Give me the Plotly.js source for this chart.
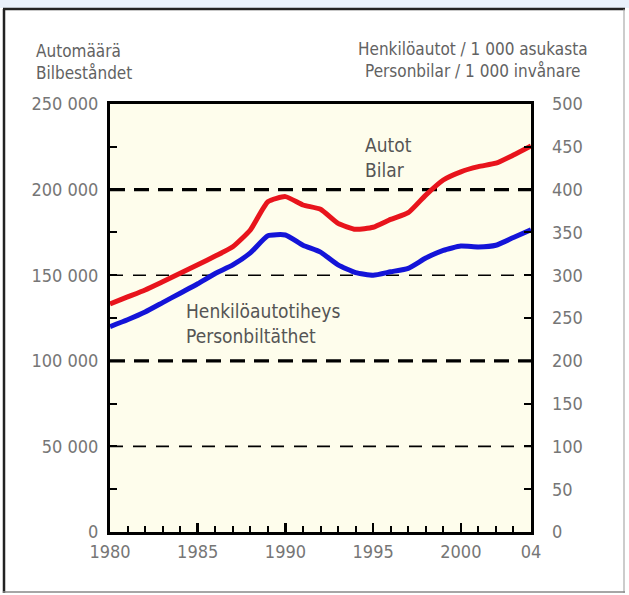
<!DOCTYPE html>
<html>
<head>
<meta charset="utf-8">
<script src="https://cdn.plot.ly/plotly-3.0.1.min.js"></script>
<style>html,body{margin:0;padding:0;background:#fff;}#chart{width:629px;height:595px;}</style>
</head>
<body>
<div id="chart"></div>
<script>
// ---- data ----
const years = [1980,1981,1982,1983,1984,1985,1986,1987,1988,1989,1990,1991,1992,1993,1994,1995,1996,1997,1998,1999,2000,2001,2002,2003,2004];
const autot = [133200,137300,141400,146200,151100,156100,161200,166600,176400,192900,195900,191000,188500,180300,176800,178000,182600,186500,196800,205600,210400,213400,215400,220200,225500];
const tiheys = [240,248,257,268,279,290,302,312,326,346,347,335,327,312,303,300,304,308,320,329,334,333,335,344,353];
const xTickVals = [1980,1985,1990,1995,2000,2004];
const xTickText = ['1980','1985','1990','1995','2000','04'];
const leftTickVals = [0,50000,100000,150000,200000,250000];
const leftTickText = ['0','50 000','100 000','150 000','200 000','250 000'];
const rightTickVals = [0,50,100,150,200,250,300,350,400,450,500];
const rightTickText = ['0','50','100','150','200','250','300','350','400','450','500'];

// ---- layout helpers ----
const W = 629, H = 595;
const L = 110, R = 531, T = 104, B = 532;
const px = x => (x - L) / (R - L);
const py = y => (B - y) / (B - T);
const FONT = 'Liberation Sans Narrow, Arial Narrow, DejaVu Sans Condensed, sans-serif';
const GRAY = '#767676';

const traces = [
  {x: years, y: autot, type: 'scatter', mode: 'lines', yaxis: 'y',
   line: {color: '#e8141c', width: 5, shape: 'spline', smoothing: 0.5}, hoverinfo: 'skip'},
  {x: years, y: tiheys, type: 'scatter', mode: 'lines', yaxis: 'y2',
   line: {color: '#1414d8', width: 5, shape: 'spline', smoothing: 0.5}, hoverinfo: 'skip'}
];

const gridShapes = [
  {y: 200000, w: 3.2, dash: '15px,9px'},
  {y: 100000, w: 3.2, dash: '15px,9px'},
  {y: 150000, w: 1.6, dash: '13px,10px'},
  {y: 50000, w: 1.6, dash: '13px,10px'}
].map(g => ({type: 'line', xref: 'paper', yref: 'y', x0: 0, x1: 1, y0: g.y, y1: g.y,
  line: {color: '#000', width: g.w, dash: g.dash}, layer: 'below'}));

const frameShapes = [
  {type: 'rect', xref: 'paper', yref: 'paper', x0: px(0), x1: px(W), y0: py(0), y1: py(8),
   fillcolor: '#e9f1fb', line: {width: 0}, layer: 'below'},
  {type: 'line', xref: 'paper', yref: 'paper', x0: px(3), x1: px(625), y0: py(9), y1: py(9),
   line: {color: '#222', width: 2.5}},
  {type: 'line', xref: 'paper', yref: 'paper', x0: px(4), x1: px(4), y0: py(9), y1: py(593),
   line: {color: '#222', width: 2.5}},
  {type: 'line', xref: 'paper', yref: 'paper', x0: px(624), x1: px(624), y0: py(9), y1: py(593),
   line: {color: '#999', width: 1}},
  {type: 'line', xref: 'paper', yref: 'paper', x0: px(3), x1: px(625), y0: py(592), y1: py(592),
   line: {color: '#888', width: 1.5}}
];

const layout = {
  width: W, height: H,
  margin: {l: L, r: W - R, t: T, b: H - B, pad: 0},
  paper_bgcolor: '#ffffff',
  plot_bgcolor: '#fefdec',
  showlegend: false,
  font: {family: FONT, size: 18, color: GRAY},
  xaxis: {
    range: [1980, 2004], showgrid: false, zeroline: false,
    showline: true, mirror: true, linecolor: '#000', linewidth: 3,
    tickmode: 'array', tickvals: xTickVals, ticktext: xTickText,
    ticks: 'inside', ticklen: 9, tickwidth: 2.5, tickcolor: '#000',
    ticklabelstandoff: 1,
    tickfont: {family: FONT, size: 18, color: GRAY},
    minor: {dtick: 1, tick0: 1980, ticks: 'inside', ticklen: 6, tickwidth: 2, tickcolor: '#000', showgrid: false}
  },
  yaxis: {
    range: [0, 250000], showgrid: false, zeroline: false,
    showline: true, mirror: true, linecolor: '#000', linewidth: 3,
    tickmode: 'array', tickvals: leftTickVals, ticktext: leftTickText,
    ticks: 'inside', ticklen: 7, tickwidth: 2, tickcolor: '#000',
    ticklabelstandoff: 5,
    tickfont: {family: FONT, size: 18, color: GRAY},
    minor: {dtick: 25000, tick0: 0, ticks: 'inside', ticklen: 7, tickwidth: 2, tickcolor: '#000', showgrid: false}
  },
  yaxis2: {
    range: [0, 500], overlaying: 'y', side: 'right', showgrid: false, zeroline: false,
    showline: false,
    tickmode: 'array', tickvals: rightTickVals, ticktext: rightTickText,
    ticks: 'inside', ticklen: 7, tickwidth: 2, tickcolor: '#000',
    ticklabelstandoff: 20,
    tickfont: {family: FONT, size: 18, color: GRAY}
  },
  shapes: frameShapes.concat(gridShapes),
  annotations: [
    {xref: 'paper', yref: 'paper', x: px(34), y: py(62), xanchor: 'left', yanchor: 'middle', align: 'left',
     text: 'Automäärä<br>Bilbeståndet', showarrow: false, font: {family: FONT, size: 17, color: '#626262'}},
    {xref: 'paper', yref: 'paper', x: px(473), y: py(60), xanchor: 'center', yanchor: 'middle', align: 'center',
     text: 'Henkilöautot / 1 000 asukasta<br>Personbilar / 1 000 invånare', showarrow: false, font: {family: FONT, size: 17, color: '#626262'}},
    {xref: 'x', yref: 'y', x: 1994.4, y: 219000, xanchor: 'left', yanchor: 'middle', align: 'left',
     text: 'Autot<br>Bilar', showarrow: false, font: {family: FONT, size: 19, color: '#555'}},
    {xref: 'x', yref: 'y', x: 1984.2, y: 122000, xanchor: 'left', yanchor: 'middle', align: 'left',
     text: 'Henkilöautotiheys<br>Personbiltäthet', showarrow: false, font: {family: FONT, size: 19, color: '#555'}}
  ]
};

Plotly.newPlot('chart', traces, layout, {staticPlot: true, displayModeBar: false});
</script>
</body>
</html>
